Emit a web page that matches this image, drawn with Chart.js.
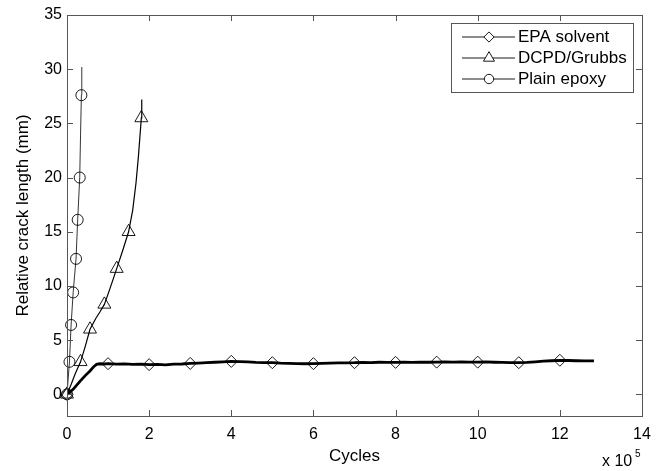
<!DOCTYPE html>
<html lang="en">
<head>
  <meta charset="UTF-8" />
  <title>Relative crack length vs cycles</title>
  <script src="https://cdn.jsdelivr.net/npm/chart.js"></script>
  <style>
    html, body { margin: 0; padding: 0; background: #fff; }
    #wrap { width: 666px; height: 471px; }
  </style>
</head>
<body>
  <div id="wrap"><canvas id="crackChart"></canvas></div>

  <script>
    // cycles are in units of 1e5
    const xTicks = [0, 2, 4, 6, 8, 10, 12, 14];
    const yTicks = [0, 5, 10, 15, 20, 25, 30, 35];
    const seriesNames = ['EPA solvent', 'DCPD/Grubbs', 'Plain epoxy'];

    // EPA solvent (thick line)
    const epaX = [0, 0.15, 0.32, 0.45, 0.56, 0.65, 0.72, 0.8, 0.9, 1.0, 1.2, 1.4, 1.6, 1.8, 2.0, 2.2, 2.4, 2.6, 2.8, 3.0,
      3.2, 3.4, 3.6, 3.8, 4.0, 4.2, 4.4, 4.6, 4.8, 5.0, 5.2, 5.4, 5.6, 5.8, 6.0, 6.2, 6.4, 6.6, 6.8, 7.0,
      7.2, 7.4, 7.6, 7.8, 8.0, 8.2, 8.4, 8.6, 8.8, 9.0, 9.2, 9.4, 9.6, 9.8, 10.0, 10.2, 10.4, 10.6, 10.8, 11.0,
      11.2, 11.4, 11.6, 11.8, 12.0, 12.2, 12.4, 12.6, 12.83];
    const epaY = [0, 0.46, 1.22, 1.75, 2.15, 2.55, 2.76, 2.82, 2.80, 2.83, 2.78, 2.81, 2.76, 2.79, 2.74, 2.77, 2.72, 2.78, 2.80, 2.85,
      2.88, 2.92, 2.96, 3.00, 3.04, 3.02, 2.99, 2.95, 2.93, 2.92, 2.88, 2.86, 2.84, 2.82, 2.83, 2.86, 2.88, 2.90, 2.91, 2.92,
      2.95, 2.93, 2.96, 2.94, 2.95, 2.97, 2.95, 2.98, 2.96, 2.97, 2.99, 2.98, 3.00, 2.97, 2.97, 2.99, 2.96, 2.94, 2.93, 2.92,
      2.95, 3.00, 3.06, 3.10, 3.14, 3.12, 3.10, 3.09, 3.08];
    const epaMarkX = [0, 1, 2, 3, 4, 5, 6, 7, 8, 9, 10, 11, 12];
    const epaMarkY = [0, 2.83, 2.74, 2.85, 3.04, 2.92, 2.83, 2.92, 2.95, 2.97, 2.97, 2.92, 3.14];

    // DCPD/Grubbs
    const dcpdX = [0, 0.1, 0.2, 0.33, 0.45, 0.56, 0.7, 0.8, 0.91, 1.05, 1.21, 1.35, 1.5, 1.6, 1.68, 1.74, 1.78, 1.81, 1.82];
    const dcpdY = [0, 0.9, 1.9, 3.0, 4.5, 6.0, 7.0, 7.6, 8.3, 9.8, 11.6, 13.2, 15.0, 17.0, 19.5, 22.0, 24.0, 25.5, 27.2];
    const dcpdMarkX = [0, 0.33, 0.56, 0.91, 1.21, 1.5, 1.81];
    const dcpdMarkY = [0, 3.0, 6.0, 8.3, 11.6, 15.0, 25.5];

    // Plain epoxy
    const plainX = [0, 0.03, 0.06, 0.1, 0.15, 0.22, 0.26, 0.31, 0.33, 0.35, 0.36];
    const plainY = [0, 1.5, 3.0, 6.4, 9.4, 12.5, 16.1, 20.0, 24.0, 27.6, 30.2];
    const plainMarkX = [0, 0.06, 0.1, 0.15, 0.22, 0.26, 0.31, 0.35];
    const plainMarkY = [0, 3.0, 6.4, 9.4, 12.5, 16.1, 20.0, 27.6];

    const FONT = 'Liberation Sans, Arial, Helvetica, sans-serif';
    const FRAME = '#555';

    function pairs(xs, ys) {
      return xs.map((x, i) => ({ x: x, y: ys[i] }));
    }

    function lineSet(xs, ys, width) {
      return {
        data: pairs(xs, ys),
        showLine: true,
        borderColor: '#000',
        borderWidth: width,
        pointRadius: 0,
        tension: 0,
        fill: false
      };
    }

    function markSet(xs, ys, style, r) {
      return {
        data: pairs(xs, ys),
        showLine: false,
        pointStyle: style,
        pointRadius: r,
        pointBorderColor: '#000',
        pointBackgroundColor: 'rgba(0,0,0,0)',
        pointBorderWidth: 0.9,
        clip: false
      };
    }

    const markers = [
      { style: 'rectRot', r: 6, line: 2.8 },
      { style: 'triangle', r: 7.5, line: 1.2 },
      { style: 'circle', r: 5.5, line: 0.8 }
    ];

    // box, inward ticks, legend and exponent label (matlab look)
    const matlabFrame = {
      id: 'matlabFrame',
      afterDraw(chart) {
        const ctx = chart.ctx;
        const a = chart.chartArea;
        const xs = chart.scales.x, ys = chart.scales.y;
        ctx.save();
        ctx.strokeStyle = FRAME;
        ctx.lineWidth = 1;
        ctx.strokeRect(Math.round(a.left) + 0.5, Math.round(a.top) + 0.5,
          Math.round(a.right - a.left), Math.round(a.bottom - a.top));
        ctx.beginPath();
        xTicks.forEach(v => {
          const px = Math.round(xs.getPixelForValue(v)) + 0.5;
          ctx.moveTo(px, a.bottom); ctx.lineTo(px, a.bottom - 6);
          ctx.moveTo(px, a.top); ctx.lineTo(px, a.top + 6);
        });
        yTicks.forEach(v => {
          const py = Math.round(ys.getPixelForValue(v)) + 0.5;
          ctx.moveTo(a.left, py); ctx.lineTo(a.left + 6, py);
          ctx.moveTo(a.right, py); ctx.lineTo(a.right - 6, py);
        });
        ctx.stroke();

        // exponent
        ctx.fillStyle = '#000';
        ctx.font = '16px ' + FONT;
        ctx.textBaseline = 'alphabetic';
        ctx.textAlign = 'left';
        ctx.fillText('x 10', 602, 466);
        ctx.font = '10px ' + FONT;
        ctx.fillText('5', 635, 457);

        // legend
        const lx = 451.5, ly = 23.5, lw = 182, lh = 69;
        ctx.fillStyle = '#fff';
        ctx.fillRect(lx, ly, lw, lh);
        ctx.strokeStyle = FRAME;
        ctx.strokeRect(lx, ly, lw, lh);
        seriesNames.forEach((name, i) => {
          const y = 37 + i * 21;
          ctx.strokeStyle = '#000';
          ctx.lineWidth = 0.9;
          ctx.beginPath();
          ctx.moveTo(462, y); ctx.lineTo(515, y);
          ctx.stroke();
          ctx.fillStyle = '#fff';
          Chart.helpers.drawPoint(ctx, {
            pointStyle: markers[i].style, radius: markers[i].r * 0.85, rotation: 0, borderWidth: 0.9
          }, 489, y);
          ctx.fillStyle = '#000';
          ctx.font = '17px ' + FONT;
          ctx.textBaseline = 'middle';
          ctx.fillText(name, 518, y);
        });
        ctx.restore();
      }
    };

    const datasets = [
      lineSet(epaX, epaY, markers[0].line),
      lineSet(dcpdX, dcpdY, markers[1].line),
      lineSet(plainX, plainY, markers[2].line),
      markSet(epaMarkX, epaMarkY, markers[0].style, markers[0].r),
      markSet(dcpdMarkX, dcpdMarkY, markers[1].style, markers[1].r),
      markSet(plainMarkX, plainMarkY, markers[2].style, markers[2].r)
    ];

    new Chart(document.getElementById('crackChart'), {
      type: 'scatter',
      data: { datasets: datasets },
      options: {
        responsive: true,
        maintainAspectRatio: false,
        animation: false,
        layout: { padding: { top: 15, right: 24, left: 0, bottom: 0 } },
        plugins: { legend: { display: false }, tooltip: { enabled: false } },
        scales: {
          x: {
            type: 'linear',
            min: 0,
            max: 14,
            afterBuildTicks: s => { s.ticks = xTicks.map(v => ({ value: v })); },
            afterFit: s => { s.height = 55; },
            grid: { display: false, drawTicks: false },
            border: { display: false },
            ticks: { padding: 9, color: '#000', font: { family: FONT, size: 16 } },
            title: { display: true, text: 'Cycles', color: '#000', padding: { top: 0, bottom: 4 }, font: { family: FONT, size: 17 } }
          },
          y: {
            type: 'linear',
            min: -2,
            max: 35,
            afterBuildTicks: s => { s.ticks = yTicks.map(v => ({ value: v })); },
            afterFit: s => { s.width = 67; },
            grid: { display: false, drawTicks: false },
            border: { display: false },
            ticks: { padding: 5, color: '#000', font: { family: FONT, size: 16 } },
            title: { display: true, text: 'Relative crack length (mm)', color: '#000', padding: { top: 13, bottom: 0 }, font: { family: FONT, size: 17 } }
          }
        }
      },
      plugins: [matlabFrame]
    });
  </script>
</body>
</html>
